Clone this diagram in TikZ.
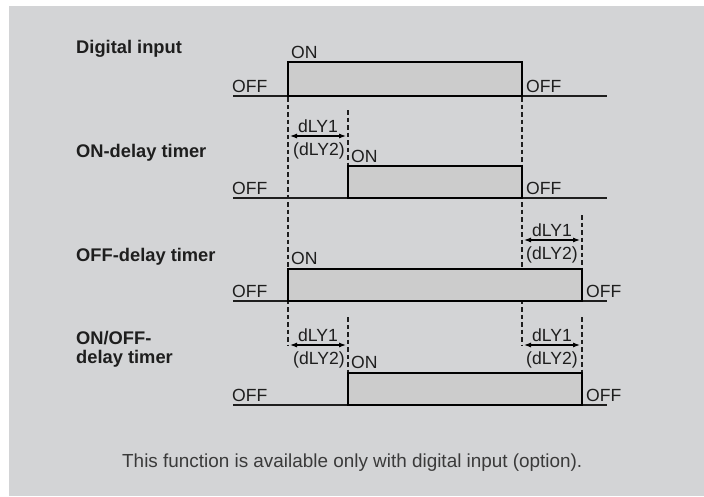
\documentclass[tikz,border=0pt]{standalone}
\usepackage{fontspec}
\setmainfont{Liberation Sans}
\usetikzlibrary{arrows.meta}
\definecolor{bg}{HTML}{D3D4D6}
\definecolor{pulsefill}{HTML}{CCCCCC}
\definecolor{ink}{HTML}{1E1E1E}
\definecolor{note}{HTML}{3A3A3A}
\begin{document}
\begin{tikzpicture}[x=1pt,y=-1pt,
  lbl/.style={font=\fontsize{17.6}{20}\selectfont, text=ink, inner sep=0pt, anchor=base west},
  title/.style={font=\fontsize{18.3}{21}\selectfont\bfseries, text=ink, inner sep=0pt, anchor=base west},
  baseln/.style={draw=ink, line width=1.4pt},
  pulse/.style={draw=black, line width=2.5pt, fill=pulsefill, line join=miter},
  guide/.style={draw=ink, line width=1.1pt, dash pattern=on 4.5pt off 3pt},
  span/.style={draw=black, line width=1.1pt, {Latex[length=7pt,width=5pt]}-{Latex[length=7pt,width=5pt]}}
]
\useasboundingbox (0,0) rectangle (704,496);
\fill[bg] (9,6) rectangle (704,496);

% guide lines
\draw[guide] (288,97) -- (288,345);
\draw[guide] (522,97) -- (522,345);
\draw[guide] (348,110) -- (348,166);
\draw[guide] (582,215) -- (582,269);
\draw[guide] (348,317) -- (348,373);
\draw[guide] (582,317) -- (582,373);

% baselines
\foreach \yy in {96,198,301,405} \draw[baseln] (233,\yy) -- (607,\yy);

% pulses
\filldraw[pulse] (288,62) rectangle (522,96);
\filldraw[pulse] (348,166) rectangle (522,198);
\filldraw[pulse] (288,269) rectangle (582,301);
\filldraw[pulse] (348,373) rectangle (582,405);

% titles
\node[title] (t1) at (76,53) {Digital input};
\node[title] (t2) at (76,157) {ON-delay timer};
\node[title] (t3) at (76,261) {OFF-delay timer};
\node[title] (t4a) at (76,344) {ON/OFF-};
\node[title] (t4b) at (76,363) {delay timer};

% row 1
\node[lbl] (on1) at (291,58) {ON};
\node[lbl] (offl1) at (232,92) {OFF};
\node[lbl] (offr1) at (526,92) {OFF};

% row 2
\node[lbl] (on2) at (351,162) {ON};
\node[lbl] (offl2) at (232,194) {OFF};
\node[lbl] (offr2) at (526,194) {OFF};
\coordinate (a2l) at (290,136);
\coordinate (a2r) at (346,136);
\draw[span] (a2l) -- (a2r);
\node[lbl] (d2a) at (298,132) {dLY1};
\node[lbl] (d2b) at (293,155) {(dLY2)};

% row 3
\node[lbl] (on3) at (291,264) {ON};
\node[lbl] (offl3) at (232,297) {OFF};
\node[lbl] (offr3) at (586,297) {OFF};
\coordinate (a3l) at (524,240);
\coordinate (a3r) at (580,240);
\draw[span] (a3l) -- (a3r);
\node[lbl] (d3a) at (532,236) {dLY1};
\node[lbl] (d3b) at (526,259) {(dLY2)};

% row 4
\node[lbl] (on4) at (351,368) {ON};
\node[lbl] (offl4) at (232,401) {OFF};
\node[lbl] (offr4) at (586,401) {OFF};
\coordinate (a4l) at (290,345);
\coordinate (a4r) at (346,345);
\draw[span] (a4l) -- (a4r);
\node[lbl] (d4a) at (298,341) {dLY1};
\node[lbl] (d4b) at (293,364) {(dLY2)};
\coordinate (a5l) at (524,345);
\coordinate (a5r) at (580,345);
\draw[span] (a5l) -- (a5r);
\node[lbl] (d5a) at (532,341) {dLY1};
\node[lbl] (d5b) at (526,364) {(dLY2)};

% footnote
\node[lbl, text=note, font=\fontsize{18.9}{22}\selectfont] (fn) at (122,467) {This function is available only with digital input (option).};
\end{tikzpicture}
\end{document}
